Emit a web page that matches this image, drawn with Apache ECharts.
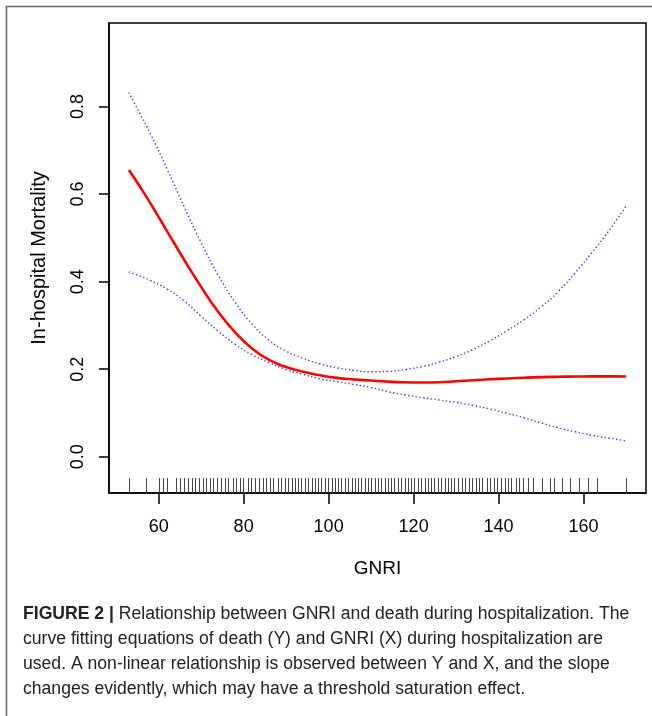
<!DOCTYPE html>
<html><head><meta charset="utf-8">
<script src="https://cdn.jsdelivr.net/npm/echarts@6/dist/echarts.min.js"></script>
<style>html,body{margin:0;padding:0;background:#fff}#c{width:652px;height:716px}</style>
</head><body><div id="c"></div>
<script>
// ---- data ----
const xTicks = [60, 80, 100, 120, 140, 160];
const yTicks = [0, 0.2, 0.4, 0.6, 0.8];
const xFit   = [53, 55, 58, 62, 66, 70, 74, 78, 82, 86, 90, 94, 98, 102, 106, 110, 114, 118, 122, 126, 130, 134, 138, 142, 146, 150, 154, 158, 162, 166, 170];
const yFit   = [0.655, 0.626, 0.580, 0.515, 0.450, 0.388, 0.331, 0.284, 0.247, 0.221, 0.205, 0.194, 0.186, 0.180, 0.1765, 0.174, 0.1715, 0.170, 0.1695, 0.170, 0.1722, 0.1745, 0.1768, 0.1788, 0.1805, 0.1818, 0.1826, 0.1831, 0.1834, 0.1834, 0.1832];
const yUpper = [0.832, 0.795, 0.739, 0.657, 0.571, 0.489, 0.415, 0.353, 0.303, 0.266, 0.241, 0.225, 0.212, 0.203, 0.197, 0.194, 0.195, 0.199, 0.206, 0.216, 0.229, 0.245, 0.265, 0.288, 0.313, 0.342, 0.377, 0.420, 0.467, 0.517, 0.573];
const yLower = [0.4225, 0.415, 0.403, 0.383, 0.356, 0.321, 0.287, 0.257, 0.233, 0.215, 0.199, 0.188, 0.178, 0.171, 0.165, 0.158, 0.1485, 0.141, 0.135, 0.1295, 0.124, 0.117, 0.109, 0.099, 0.089, 0.077, 0.066, 0.057, 0.049, 0.0425, 0.036];
const rugX = [53.1, 57.0, 60.1, 61.0, 61.9, 64.1, 65.0, 66.0, 66.8, 67.8, 68.6, 69.5, 70.4, 71.2, 72.1, 72.9, 73.8, 74.7, 75.6, 76.4, 77.4, 78.2, 79.2, 79.9, 81.0, 81.7, 82.7, 83.6, 84.5, 85.3, 86.2, 87.0, 88.0, 88.8, 89.7,
  90.5, 91.3, 92.1, 92.8, 93.6, 94.4, 95.2, 96.0, 96.7, 97.5, 98.3, 99.1, 99.9, 100.7, 101.4, 102.2, 103.0, 103.8, 104.6, 105.4, 106.1, 106.9, 107.7, 108.5, 109.3, 110.0, 110.8, 111.6, 112.4, 113.2, 114.0, 114.7, 115.5, 116.3, 117.1, 117.9, 118.7, 119.4, 120.2, 121.0, 121.8, 122.6, 123.3, 124.1, 124.9, 125.7, 126.5, 127.3, 128.0, 128.8, 129.6, 130.4,
  131.3, 132.1, 133.0, 133.8, 134.7, 135.5, 136.2, 137.2, 138.0, 138.8, 139.7, 140.6, 141.4, 142.1, 142.9, 144.1, 144.9, 145.8, 147.0, 148.0, 150.1, 152.1, 153.0, 154.8, 156.8, 159.0, 161.0, 163.1, 170.0];
const xTitle = 'GNRI';
const yTitle = 'In-hospital Mortality';
const captionBold = 'FIGURE 2 |';
const captionLines = [
  ' Relationship between GNRI and death during hospitalization. The',
  'curve fitting equations of death (Y) and GNRI (X) during hospitalization are',
  'used. A non-linear relationship is observed between Y and X, and the slope',
  'changes evidently, which may have a threshold saturation effect.'
];

// ---- chart ----
const X_MIN = 48.32, X_MAX = 174.68, Y_MIN = -0.083, Y_MAX = 0.991;
const FONT = '"Liberation Sans", Arial, Helvetica, sans-serif';
const CAP = 17.6;
const pair = (xs, ys) => xs.map((x, i) => [x, ys[i]]);
const chart = echarts.init(document.getElementById('c'));

const captionGraphics = captionLines.map((t, i) => ({
  type: 'text', x: 23, y: 614 + i * 24.9, silent: true,
  style: i === 0 ? {
    text: '{b|' + captionBold + '}' + t,
    rich: { b: { fontWeight: 'bold', fontSize: CAP, fontFamily: FONT, fill: '#222' } },
    fontSize: CAP, fontFamily: FONT, fill: '#222', verticalAlign: 'middle', align: 'left'
  } : {
    text: t, fontSize: CAP, fontFamily: FONT, fill: '#222', verticalAlign: 'middle', align: 'left'
  }
}));

chart.setOption({
  animation: false,
  backgroundColor: '#fff',
  grid: { left: 109, right: 6, top: 23, bottom: 223, show: true, borderColor: '#000', borderWidth: 1.5 },
  xAxis: {
    type: 'value', min: X_MIN, max: X_MAX,
    name: xTitle, nameLocation: 'middle', nameGap: 66,
    nameTextStyle: { fontFamily: FONT, fontSize: 19, color: '#000' },
    axisLine: { show: true, onZero: false, lineStyle: { color: '#000', width: 1.5 } },
    axisTick: { show: true, customValues: xTicks, length: 11, lineStyle: { color: '#000', width: 1.5 } },
    axisLabel: { customValues: xTicks, margin: 25, fontFamily: FONT, fontSize: 18, color: '#000' },
    splitLine: { show: false }
  },
  yAxis: {
    type: 'value', min: Y_MIN, max: Y_MAX,
    name: yTitle, nameLocation: 'middle', nameGap: 60, nameRotate: 90,
    nameTextStyle: { fontFamily: FONT, fontSize: 20, color: '#000' },
    axisLine: { show: true, onZero: false, lineStyle: { color: '#000', width: 1.5 } },
    axisTick: { show: true, customValues: yTicks, length: 10, lineStyle: { color: '#000', width: 1.5 } },
    axisLabel: { customValues: yTicks, rotate: 90, margin: 22, fontFamily: FONT, fontSize: 18, color: '#000',
      formatter: v => v.toFixed(1) },
    splitLine: { show: false }
  },
  graphic: [
    { type: 'polyline', silent: true, shape: { points: [[6.5, 716], [6.5, 6.5], [652, 6.5]] },
      style: { stroke: '#666', lineWidth: 1.5, fill: null } },
    ...captionGraphics
  ],
  series: [
    {
      type: 'custom', silent: true, clip: false,
      data: rugX.map(v => [v, Y_MIN]),
      renderItem: (params, api) => {
        const p = api.coord([api.value(0), api.value(1)]);
        const x = Math.round(p[0]) + 0.5;
        return { type: 'line', shape: { x1: x, y1: p[1], x2: x, y2: p[1] - 15 },
          style: { stroke: '#444', lineWidth: 1 } };
      }
    },
    { type: 'line', data: pair(xFit, yUpper), showSymbol: false, smooth: true, silent: true,
      lineStyle: { color: '#3a3aff', width: 1.4, type: [1.4, 2.4] } },
    { type: 'line', data: pair(xFit, yLower), showSymbol: false, smooth: true, silent: true,
      lineStyle: { color: '#3a3aff', width: 1.4, type: [1.4, 2.4] } },
    { type: 'line', data: pair(xFit, yFit), showSymbol: false, smooth: true, silent: true,
      lineStyle: { color: '#ff0000', width: 2.6 } }
  ]
});
</script></body></html>
